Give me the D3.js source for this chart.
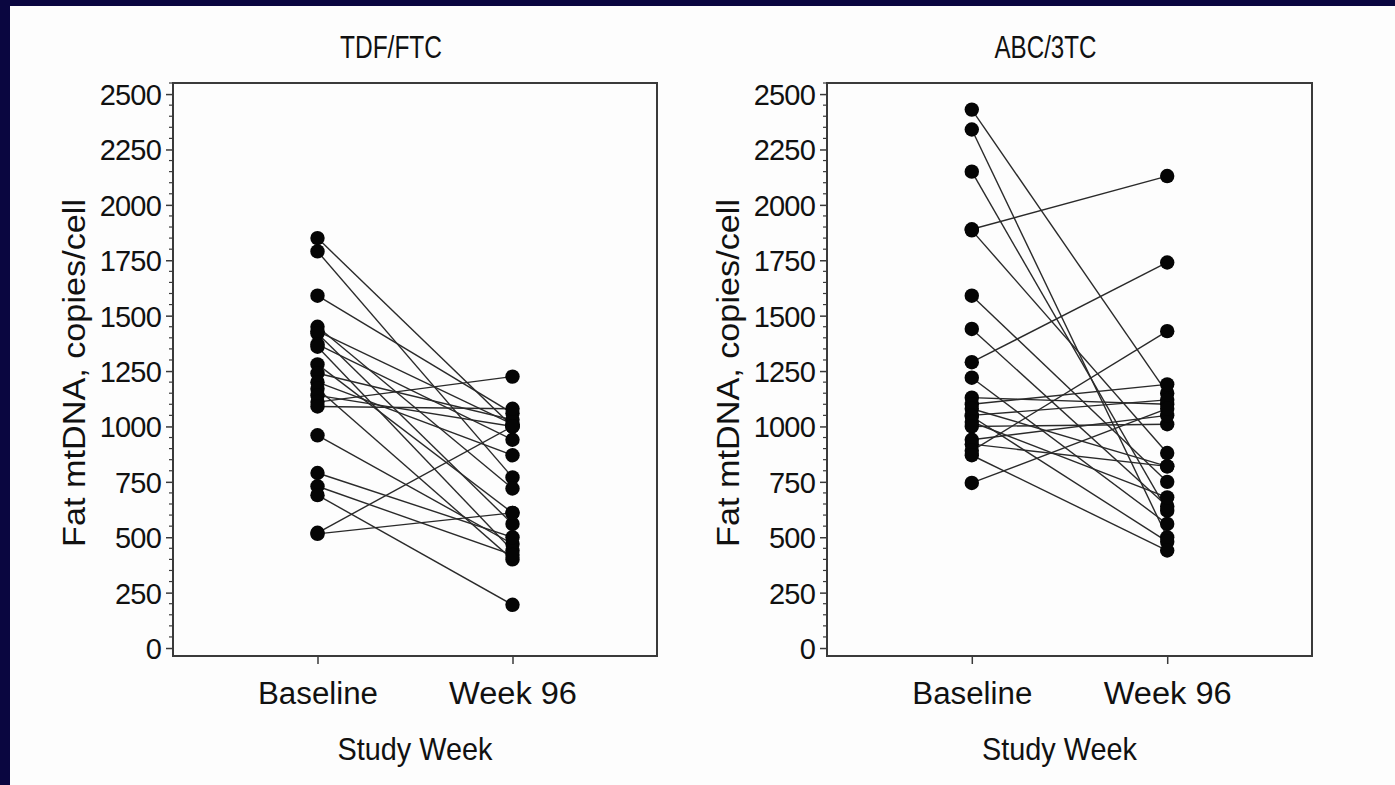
<!DOCTYPE html>
<html><head><meta charset="utf-8">
<script src="https://cdn.jsdelivr.net/npm/d3@7"></script>
<style>
html,body{margin:0;padding:0;background:#0a0640;}
svg{display:block;}
text{font-family:"Liberation Sans",Arial,Helvetica,sans-serif;fill:#111;}
</style></head><body>
<svg id="c" width="1395" height="785"></svg>
<script>
const categories = ["Baseline", "Week 96"];
const yTicks = [0,250,500,750,1000,1250,1500,1750,2000,2250,2500];
const titles = ["TDF/FTC", "ABC/3TC"];
const yLabel = "Fat mtDNA, copies/cell";
const xLabel = "Study Week";

// TDF/FTC: paired values per subject
const tdfBaseline = [1850,1790,1590,1450,1430,1420,1370,1360,1280,1240,1200,1170,1140,1110,1090,960,790,730,690,520,515];
const tdfWeek96   = [1000, 770,1060, 720,1010, 560, 940, 440, 610,1030, 870, 400,1000,1225,1080,470,500,420,195,1000,610];

// ABC/3TC: paired values per subject
const abcBaseline = [2430,2340,2150,1890,1885,1590,1440,1290,1220,1130,1100,1080,1050,1045,1020,1000,940,920,890,870,745];
const abcWeek96   = [1150, 500, 620,2130, 880, 750, 640,1740, 560,1100,1190, 820,1120, 480, 680,1010,1050,820,1430,440,1080];

const svg = d3.select("#c");
svg.append("rect").attr("x",10).attr("y",6).attr("width",1385).attr("height",779).attr("fill","#fdfdfd");

const panels = [
  {title: titles[0], base: tdfBaseline, wk: tdfWeek96, x0: 173, x1: 657, xlabOff: 0},
  {title: titles[1], base: abcBaseline, wk: abcWeek96, x0: 827, x1: 1312, xlabOff: -10}
];
const yTop = 83, yBot = 656;
const tickW = {"Baseline": 120, "Week 96": 128};

panels.forEach(p => {
  const x = d3.scalePoint().domain(categories).range([p.x0, p.x1]).padding(0.741);
  const y = d3.scaleLinear().domain([-36, 2550]).range([yBot, yTop]);
  const g = svg.append("g");
  const cx = (p.x0 + p.x1) / 2;

  g.append("rect").attr("x",p.x0).attr("y",yTop).attr("width",p.x1-p.x0).attr("height",yBot-yTop)
    .attr("fill","none").attr("stroke","#3a3a3a").attr("stroke-width",2);

  const minor = d3.range(0, 2551, 50).filter(v => v % 250 !== 0);
  g.selectAll(".mn").data(minor).join("line")
    .attr("x1",p.x0-4).attr("x2",p.x0).attr("y1",d=>y(d)).attr("y2",d=>y(d))
    .attr("stroke","#3a3a3a").attr("stroke-width",1.2);

  const ya = d3.axisLeft(y).tickValues(yTicks).tickFormat(d3.format("d")).tickSize(7).tickPadding(5);
  const yg = g.append("g").attr("transform",`translate(${p.x0},0)`).call(ya);
  yg.select(".domain").remove();
  yg.attr("font-family",null).attr("font-size",null);
  yg.selectAll(".tick line").attr("stroke","#3a3a3a").attr("stroke-width",1.5);
  yg.selectAll(".tick text").style("font-size","29px").attr("fill","#111").attr("dy","0.36em")
    .style("letter-spacing","-0.8px");

  const xa = d3.axisBottom(x).tickSize(8).tickPadding(18);
  const xg = g.append("g").attr("transform",`translate(0,${yBot})`).call(xa);
  xg.select(".domain").remove();
  xg.attr("font-family",null).attr("font-size",null);
  xg.selectAll(".tick line").attr("stroke","#3a3a3a").attr("stroke-width",1.5);
  xg.selectAll(".tick text").style("font-size","31px").attr("fill","#111")
    .attr("textLength", d => tickW[d]).attr("lengthAdjust","spacingAndGlyphs");

  g.append("text").attr("x",cx - 24).attr("y",58).attr("text-anchor","middle")
    .style("font-size","31px").attr("textLength",102).attr("lengthAdjust","spacingAndGlyphs").text(p.title);

  g.append("text").attr("x",cx + p.xlabOff).attr("y",760).attr("text-anchor","middle")
    .style("font-size","32px").attr("textLength",155).attr("lengthAdjust","spacingAndGlyphs").text(xLabel);

  g.append("text").attr("transform",`translate(${p.x0-88},${373}) rotate(-90)`)
    .attr("text-anchor","middle").style("font-size","31px")
    .attr("textLength",348).attr("lengthAdjust","spacingAndGlyphs").text(yLabel);

  const pairs = p.base.map((b,i) => ({b, w: p.wk[i]}));
  g.selectAll(".pl").data(pairs).join("line")
    .attr("x1", x(categories[0])).attr("x2", x(categories[1]))
    .attr("y1", d=>y(d.b)).attr("y2", d=>y(d.w))
    .attr("stroke","#2a2a2a").attr("stroke-width",1.4);

  const pts = pairs.flatMap(d => [{c: categories[0], v: d.b}, {c: categories[1], v: d.w}]);
  g.selectAll(".pt").data(pts).join("circle")
    .attr("cx", d=>x(d.c)).attr("cy", d=>y(d.v)).attr("r",7.2).attr("fill","#050505");
});
</script>
</body></html>
